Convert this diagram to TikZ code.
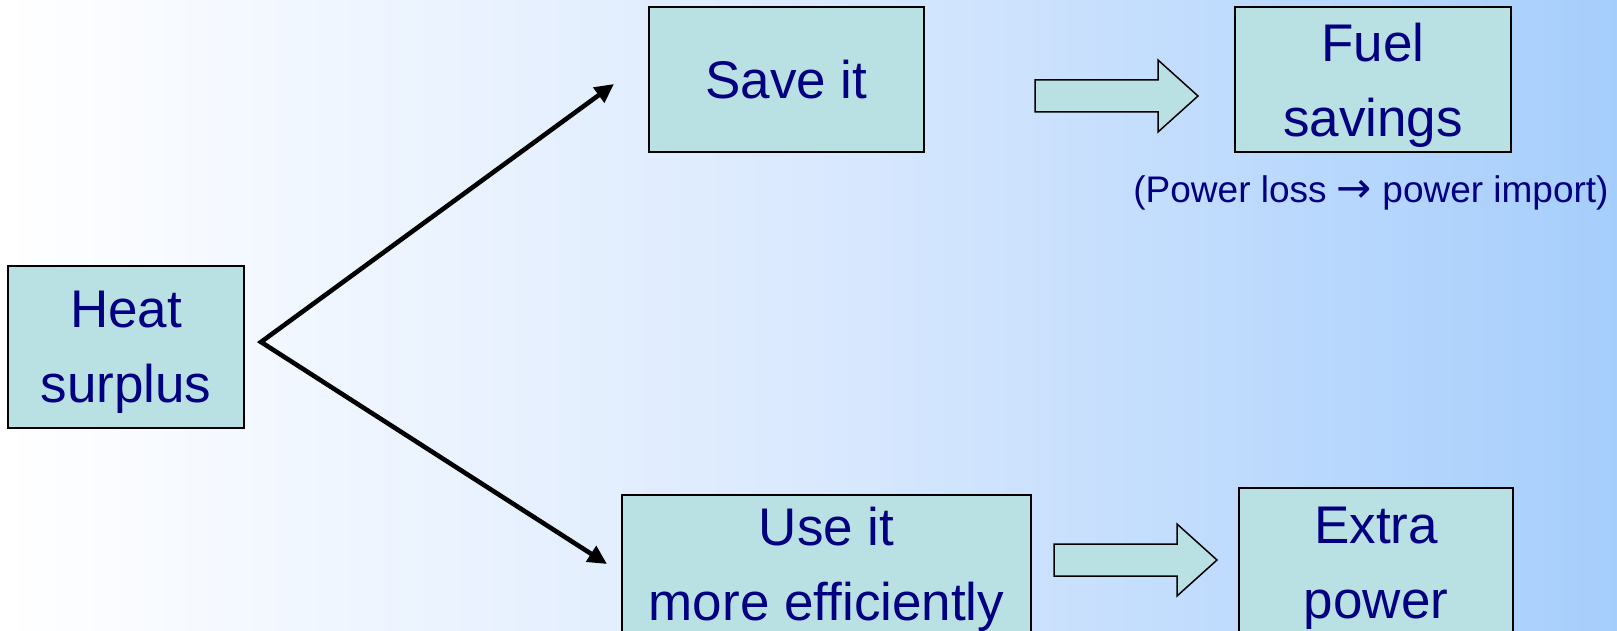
\documentclass[tikz,border=0pt]{standalone}
\usepackage{fontspec}
\setmainfont{Liberation Sans}
\newfontfamily\symfont{DejaVu Sans}
\usetikzlibrary{arrows.meta}
\definecolor{boxfill}{RGB}{185,224,226}
\definecolor{navytext}{RGB}{0,0,128}
\definecolor{bgleft}{RGB}{255,255,255}
\definecolor{bgmid}{RGB}{218,233,254}
\definecolor{bgright}{RGB}{166,206,252}
\tikzset{
  box/.style={draw=black, line width=1.8pt, fill=boxfill, inner sep=0pt,
    align=center, text=navytext, font=\fontsize{53}{75}\selectfont,
    text depth=0pt},
  conn/.style={line width=4.6pt, line join=miter,
    {Triangle[length=19pt,width=18pt]}-{Triangle[length=19pt,width=18pt]}},
  fatarrow/.style={draw=black, line width=1.5pt, fill=boxfill, line join=miter},
  note/.style={text=navytext, font=\fontsize{37}{44}\selectfont,
    inner sep=0pt, anchor=base}
}
\begin{document}
\begin{tikzpicture}[x=1pt,y=-1pt]
% background: horizontal gradient, white to light blue
\shade[left color=bgleft, right color=bgright, middle color=bgmid]
  (0,0) rectangle (1617,631);
\useasboundingbox (0,0) rectangle (1617,631);

% boxes
\node[box, minimum width=236pt, minimum height=162pt] (heat)  at (126,347)   {Heat\\surplus};
\node[box, minimum width=275pt, minimum height=145pt] (save)  at (786.5,79.5) {Save it};
\node[box, minimum width=276pt, minimum height=145pt] (fuel)  at (1373,79.5)  {Fuel\\savings};
\node[box, minimum width=409pt, minimum height=138pt] (use)   at (826.5,564)  {Use it\\more efficiently};
\node[box, minimum width=274pt, minimum height=150pt] (extra) at (1376,563)   {Extra\\power};

\node[note] (loss) at (1371,203) {(Power loss {\symfont\fontsize{42}{44}\selectfont →} power import)};

% branching connectors out of the heat surplus
\coordinate (fork)   at (261,342);
\coordinate (saveIn) at (614,84);
\coordinate (useIn)  at (607,564);
\draw[conn] (saveIn) -- (fork) -- (useIn);

% block arrows towards the results
\coordinate (a1) at (1035,96);
\draw[fatarrow] (a1) ++(0,-16) -- ++(123,0) -- ++(0,-20) -- (1198,96)
  -- (1158,132) -- (1158,112) -- (1035,112) -- cycle;
\coordinate (a2) at (1054,560);
\draw[fatarrow] (a2) ++(0,-16) -- ++(123,0) -- ++(0,-20) -- (1217,560)
  -- (1177,596) -- (1177,576) -- (1054,576) -- cycle;
\end{tikzpicture}
\end{document}
